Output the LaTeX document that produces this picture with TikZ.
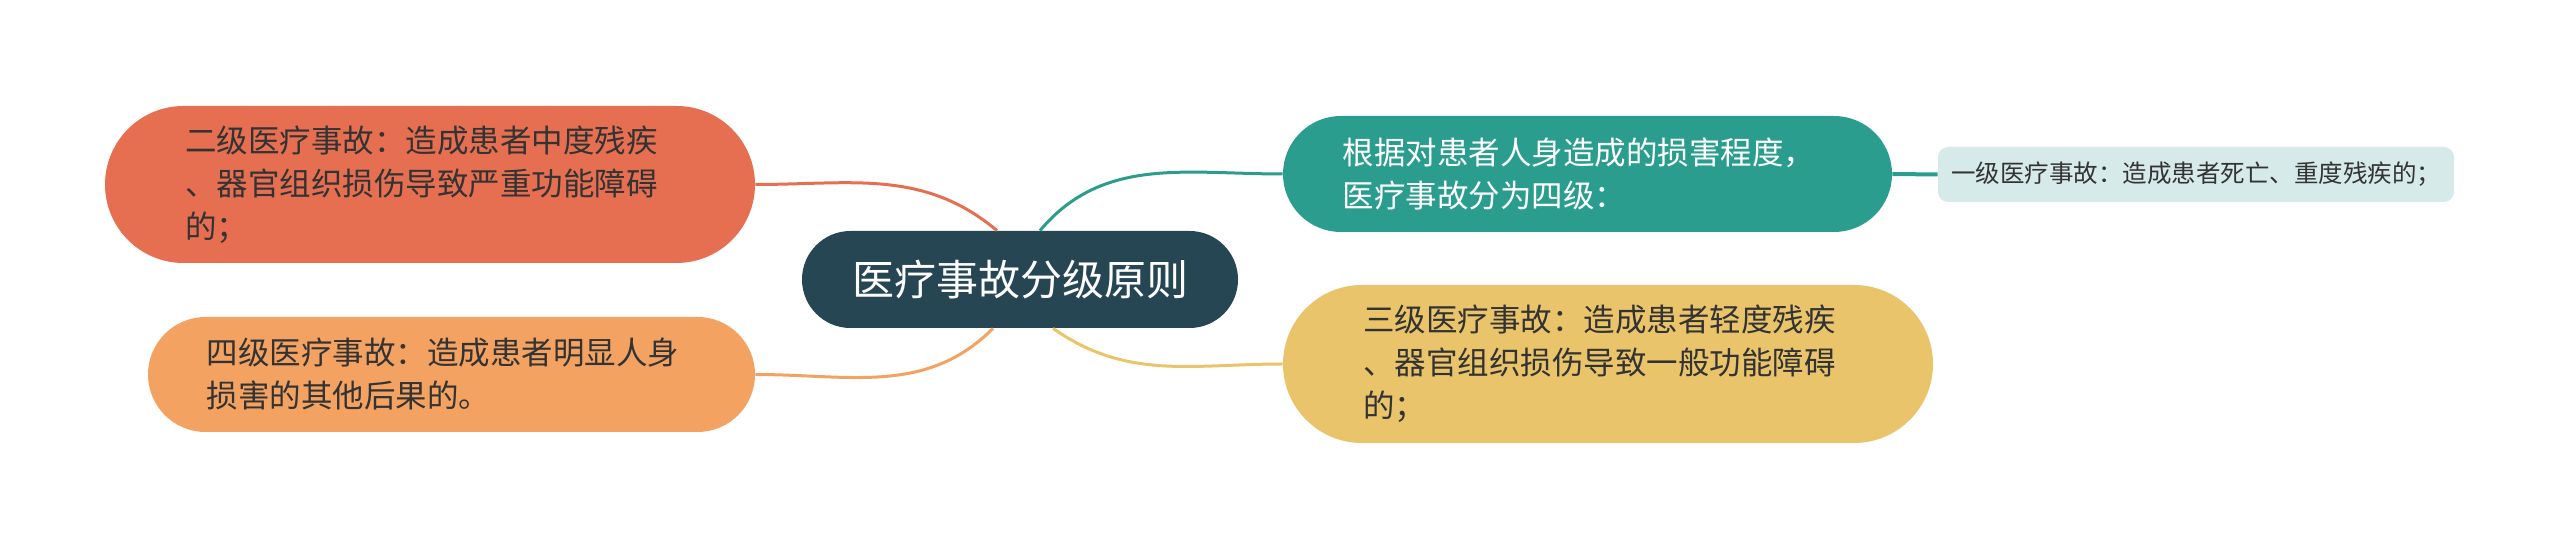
\documentclass[tikz,border=0pt]{standalone}
\usepackage{fontspec}
\newfontfamily\cjk{Noto Sans CJK SC}

\definecolor{rootblue}{HTML}{264653}
\definecolor{redbox}{HTML}{E76F51}
\definecolor{orangebox}{HTML}{F4A261}
\definecolor{tealbox}{HTML}{2A9D8F}
\definecolor{yellowbox}{HTML}{E9C46A}
\definecolor{palebox}{HTML}{D6EBE9}
\definecolor{darktext}{HTML}{333333}

\begin{document}
\begin{tikzpicture}[x=0.5pt,y=-0.5pt]
		\useasboundingbox (0,0) rectangle (2560,549);

		\node[fill=rootblue,text=white,rounded corners=24.25pt,minimum width=218pt,minimum height=48.5pt,
		      inner sep=0pt,font=\cjk\fontsize{21}{25}\selectfont] (root) at (1020,279.5) {医疗事故分级原则};

		\begin{scope}[every node/.style={font=\cjk\fontsize{15.75}{21.5}\selectfont,text=darktext,
		              inner sep=0pt,align=left,text width=245pt}]
		    \node[fill=redbox,rounded corners=39.25pt,minimum width=325pt,minimum height=78.5pt] (two) at (430,184.5)
		        {二级医疗事故：造成患者中度残疾\\、器官组织损伤导致严重功能障碍\\的；};
		    \node[fill=orangebox,rounded corners=28.75pt,minimum width=303.5pt,minimum height=57.5pt] (four) at (451.5,374.5)
		        {四级医疗事故：造成患者明显人身\\损害的其他后果的。};
		    \node[fill=tealbox,text=white,rounded corners=29pt,minimum width=304.5pt,minimum height=58pt] (basis) at (1587.5,174)
		        {根据对患者人身造成的损害程度，\\医疗事故分为四级：};
		    \node[fill=yellowbox,rounded corners=39.5pt,minimum width=325pt,minimum height=79pt] (three) at (1608,364)
		        {三级医疗事故：造成患者轻度残疾\\、器官组织损伤导致一般功能障碍\\的；};
		\end{scope}

		\node[fill=palebox,text=darktext,rounded corners=5pt,minimum width=258pt,minimum height=27.5pt,
		      inner sep=0pt,font=\cjk\fontsize{12.25}{15}\selectfont] (one) at (2196,174.5) {一级医疗事故：造成患者死亡、重度残疾的；};

		\begin{scope}[every edge/.style={draw,line width=1.5pt}]
		    \path ([xshift=-11.5pt]root.north) edge[draw=redbox,out=140,in=0] (two.east);
		    \path ([xshift=-13.5pt]root.south) edge[draw=orangebox,out=225,in=0] (four.east);
		    \path ([xshift=10pt]root.north) edge[draw=tealbox,out=50,in=180] (basis.west);
		    \path ([xshift=16.5pt]root.south) edge[draw=yellowbox,out=-35,in=180] (three.west);
		    \path (basis.east) edge[draw=tealbox,line width=2pt] (one.west);
		\end{scope}
\end{tikzpicture}
\end{document}
